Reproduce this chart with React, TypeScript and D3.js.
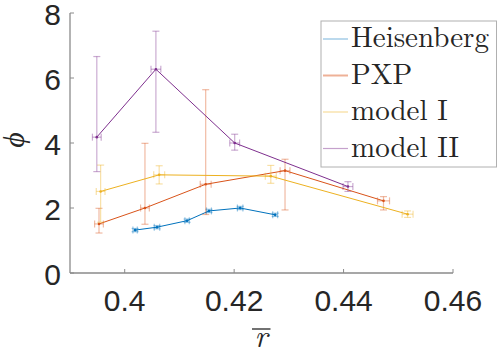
import React from "react";
import * as d3 from "d3";

// series values
const seriesNames = ["Heisenberg", "PXP", "model I", "model II"];
const seriesColors = ["#0072BD", "#D95319", "#EDB120", "#7E2F8E"];

const heisR = [0.4019, 0.4059, 0.4114, 0.4154, 0.4211, 0.4275];
const heisPhi = [1.32, 1.41, 1.61, 1.91, 2.0, 1.79];
const heisPhiLo = [0.05, 0.05, 0.05, 0.05, 0.05, 0.05];
const heisPhiHi = [0.05, 0.05, 0.05, 0.05, 0.05, 0.05];
const heisRErr = [0.0004, 0.0005, 0.0004, 0.00045, 0.0005, 0.00045];

const pxpR = [0.3953, 0.4037, 0.4148, 0.4293, 0.4473];
const pxpPhi = [1.51, 2.0, 2.73, 3.15, 2.22];
const pxpPhiLo = [0.28, 0.5, 0.93, 1.21, 0.28];
const pxpPhiHi = [0.48, 1.99, 2.91, 0.35, 0.13];
const pxpRErr = [0.0008, 0.0008, 0.001, 0.0009, 0.0011];

const m1R = [0.3956, 0.4063, 0.4267, 0.4517];
const m1Phi = [2.51, 3.02, 2.98, 1.81];
const m1PhiLo = [0.95, 0.28, 0.22, 0.1];
const m1PhiHi = [0.81, 0.28, 0.33, 0.1];
const m1RErr = [0.0008, 0.001, 0.001, 0.001];

const m2R = [0.3949, 0.4057, 0.4201, 0.4408];
const m2Phi = [4.18, 6.27, 4.0, 2.66];
const m2PhiLo = [1.06, 1.94, 0.22, 0.15];
const m2PhiHi = [2.48, 1.17, 0.27, 0.15];
const m2RErr = [0.0008, 0.0009, 0.0009, 0.0009];

const xTicks = [0.4, 0.42, 0.44, 0.46];
const yTicks = [0, 2, 4, 6, 8];

const W = 498, H = 352;
const serif = { fontFamily: '"Latin Modern Roman", "Liberation Serif", serif' };
const sans = { fontFamily: '"Liberation Sans", Arial, sans-serif' };

export default function App() {
  const x = d3.scaleLinear().domain([0.39, 0.46]).range([70, 453]);
  const y = d3.scaleLinear().domain([0, 8]).range([273, 13]);

  const series = [
    { r: heisR, phi: heisPhi, lo: heisPhiLo, hi: heisPhiHi, re: heisRErr },
    { r: pxpR, phi: pxpPhi, lo: pxpPhiLo, hi: pxpPhiHi, re: pxpRErr },
    { r: m1R, phi: m1Phi, lo: m1PhiLo, hi: m1PhiHi, re: m1RErr },
    { r: m2R, phi: m2Phi, lo: m2PhiLo, hi: m2PhiHi, re: m2RErr },
  ];

  const cap = 3.5;
  const axisColor = "#8a8a8a";
  const textColor = "#262626";

  return (
    <svg width={W} height={H} style={{ position: "absolute", left: 0, top: 0, background: "#fff" }}>
      {/* axes */}
      <line x1={x(0.39)} x2={x(0.46)} y1={y(0)} y2={y(0)} stroke={axisColor} strokeWidth={1.3} />
      <line x1={x(0.39)} x2={x(0.39)} y1={y(0)} y2={y(8)} stroke={axisColor} strokeWidth={1.3} />
      {xTicks.map(t => (
        <g key={"x" + t}>
          <line x1={x(t)} x2={x(t)} y1={y(0)} y2={y(0) - 4} stroke={axisColor} strokeWidth={1} />
          <text x={x(t)} y={311} textAnchor="middle" style={sans}
            fontSize={30} fill={textColor}>{String(t)}</text>
        </g>
      ))}
      {yTicks.map(t => (
        <g key={"y" + t}>
          <line x1={x(0.39)} x2={x(0.39) + 4} y1={y(t)} y2={y(t)} stroke={axisColor} strokeWidth={1} />
          <text x={61} y={y(t) + 12} textAnchor="end" style={sans}
            fontSize={30} fill={textColor}>{String(t)}</text>
        </g>
      ))}
      {/* axis labels */}
      <text transform={`translate(24,140) rotate(-90)`} textAnchor="middle" style={serif}
        fontStyle="italic" fontSize={30} fill={textColor}>ϕ</text>
      <text x={261} y={347} textAnchor="middle" style={serif} fontStyle="italic"
        fontSize={31} fill={textColor}>r</text>
      <line x1={252} x2={270.5} y1={329} y2={329} stroke={textColor} strokeWidth={1.3} />

      {/* data */}
      {series.map((s, k) => {
        const c = seriesColors[k];
        const pts: [number, number][] = s.r.map((r, i) => [x(r), y(s.phi[i])]);
        const path = d3.line()(pts) || "";
        return (
          <g key={k}>
            <g stroke={c} strokeOpacity={0.4} strokeWidth={1.2} fill="none">
              {s.r.map((r, i) => {
                const cx = x(r), cy = y(s.phi[i]);
                const yt = y(s.phi[i] + s.hi[i]), yb = y(s.phi[i] - s.lo[i]);
                const xl = x(r - s.re[i]), xr = x(r + s.re[i]);
                return (
                  <g key={i}>
                    <line x1={cx} x2={cx} y1={yt} y2={yb} />
                    <line x1={cx - cap} x2={cx + cap} y1={yt} y2={yt} />
                    <line x1={cx - cap} x2={cx + cap} y1={yb} y2={yb} />
                    <line x1={xl} x2={xr} y1={cy} y2={cy} />
                    <line x1={xl} x2={xl} y1={cy - cap} y2={cy + cap} />
                    <line x1={xr} x2={xr} y1={cy - cap} y2={cy + cap} />
                  </g>
                );
              })}
            </g>
            <path d={path} stroke={c} strokeWidth={1} fill="none" />
            {pts.map((p, i) => (
              <circle key={i} cx={p[0]} cy={p[1]} r={1.3} fill={c} />
            ))}
          </g>
        );
      })}

      {/* legend */}
      <rect x={321} y={21} width={175.5} height={146} fill="#fff" stroke="#b0b0b0" strokeWidth={1} />
      {seriesNames.map((n, i) => {
        const ly = [39, 75.5, 112, 148.5][i];
        return (
          <g key={n}>
            <line x1={323} x2={348} y1={ly} y2={ly} stroke={seriesColors[i]} strokeOpacity={0.45}
              strokeWidth={i === 1 ? 2 : 1.2} />
            <text x={351} y={ly + 8} style={serif} fontSize={29} fill={textColor}>{n}</text>
          </g>
        );
      })}
    </svg>
  );
}
